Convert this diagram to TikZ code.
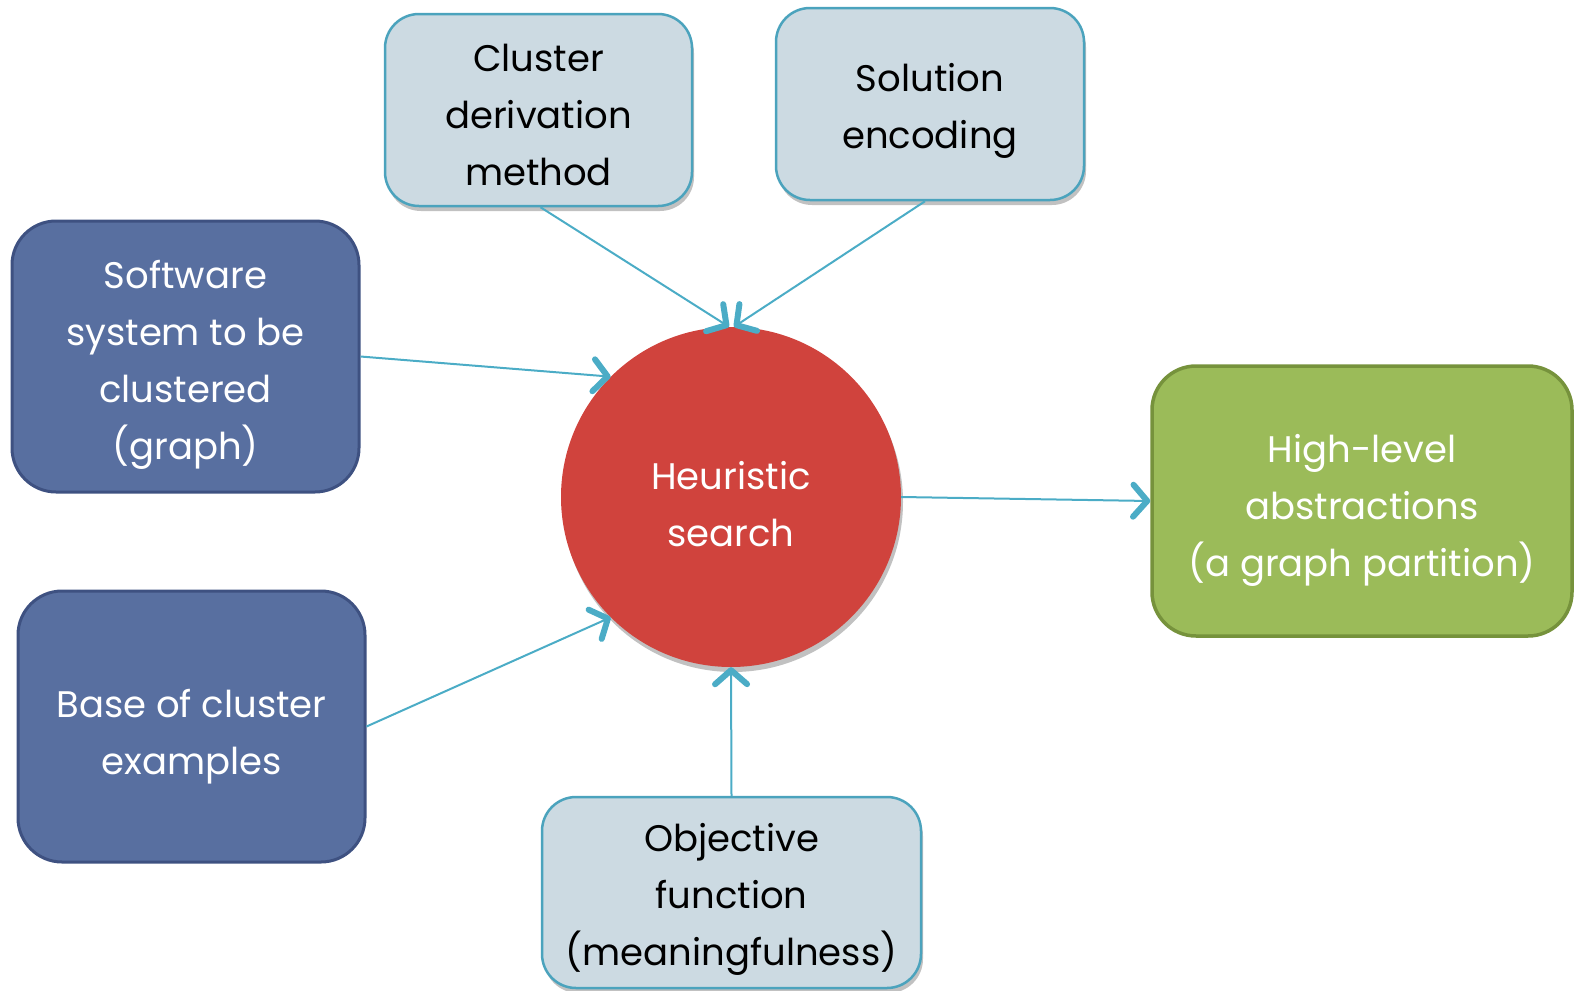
\documentclass[tikz,border=0pt]{standalone}
\usepackage{fontspec}
\setmainfont{Poppins}
\usetikzlibrary{arrows.meta,shadows}

\definecolor{paleFill}{HTML}{CCDAE2}
\definecolor{paleEdge}{HTML}{4BA3BD}
\definecolor{blueFill}{HTML}{586FA0}
\definecolor{blueEdge}{HTML}{3E5181}
\definecolor{redFill}{HTML}{D0433D}
\definecolor{greenFill}{HTML}{9BBB59}
\definecolor{greenEdge}{HTML}{76923C}
\definecolor{linkCol}{HTML}{4BACC6}

\tikzset{
  txt/.style={align=center, font=\fontsize{37}{57}\selectfont, inner sep=0pt},
  dark/.style={txt, text=black},
  light/.style={txt, text=white},
  softshadow/.style={drop shadow={shadow xshift=2pt, shadow yshift=-5pt, opacity=0.35, fill=black!70}},
  palebox/.style={rectangle, rounded corners=34pt, fill=paleFill, draw=paleEdge,
    line width=2.5pt, softshadow},
  bluebox/.style={rectangle, rounded corners=44pt, fill=blueFill, draw=blueEdge,
    line width=3pt},
  greenbox/.style={rectangle, rounded corners=44pt, fill=greenFill, draw=greenEdge,
    line width=3.5pt},
  hub/.style={circle, fill=redFill, softshadow},
  link/.style={draw=linkCol, line width=2pt,
    -{Straight Barb[length=14pt,width=32pt,line width=6pt,round]}},
}

\begin{document}
\begin{tikzpicture}[x=1pt,y=-1pt]
\useasboundingbox (0,0) rectangle (1575,991);

% central search step
\node[hub, minimum size=340pt] (hs) at (731,497) {};
\node[light] (hs-t) at ([yshift=-7pt]hs.center) {Heuristic\\search};

% inputs above
\node[palebox, minimum width=307pt, minimum height=192pt] (cdm) at (538.5,110) {};
\node[dark] (cdm-t) at ([yshift=-5pt]cdm.center) {Cluster\\derivation\\method};
\node[palebox, minimum width=308pt, minimum height=192pt] (se) at (930,104) {};
\node[dark] (se-t) at ([yshift=-7pt]se.center) {Solution\\encoding};

% inputs on the left
\node[bluebox, minimum width=347pt, minimum height=271pt] (sw) at (185.5,356.5) {};
\node[light] (sw-t) at ([yshift=-8pt]sw.center) {Software\\system to be\\clustered\\(graph)};
\node[bluebox, minimum width=347pt, minimum height=271pt] (base) at (191.5,726.5) {};
\node[light] (base-t) at ([yshift=-10pt]base.center) {Base of cluster\\examples};

% input below
\node[palebox, minimum width=379pt, minimum height=191pt] (obj) at (731.5,892.5) {};
\node[dark] (obj-t) at ([yshift=-7pt]obj.center) {Objective\\function\\(meaningfulness)};

% result
\node[greenbox, minimum width=420pt, minimum height=270pt] (hl) at (1362,501) {};
\node[light] (hl-t) at ([yshift=-9pt]hl.center) {High-level\\abstractions\\(a graph partition)};

% connectors
\draw[link] ([xshift=2pt]cdm.south) -- ([xshift=-2pt]hs.north);
\draw[link] ([xshift=-5pt]se.south) -- ([xshift=3pt]hs.north);
\draw[link] (sw.east) -- (hs.135);
\draw[link] (base.east) -- (hs.225);
\draw[link] (obj.north) -- (hs.south);
\draw[link] (hs.east) -- (hl.west);
\end{tikzpicture}
\end{document}
